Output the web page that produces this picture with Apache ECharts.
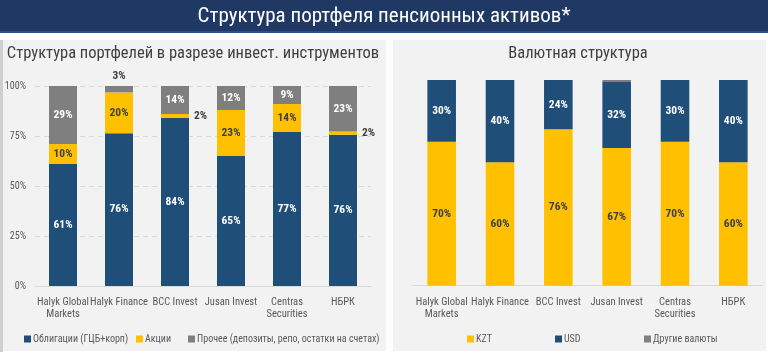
<!DOCTYPE html>
<html><head><meta charset="utf-8">
<script src="https://cdn.jsdelivr.net/npm/echarts@6/dist/echarts.min.js"></script>
<style>html,body{margin:0;padding:0;background:#fff}#c{width:768px;height:356px}</style>
</head><body><div id="c"></div>
<script>
const categories = ['Halyk Global\nMarkets', 'Halyk Finance', 'BCC Invest', 'Jusan Invest', 'Centras\nSecurities', 'НБРК'];
const yTicks = ['0%', '25%', '50%', '75%', '100%'];
// left chart: portfolio structure by instrument (%)
const bonds  = [61, 76.4, 84, 65, 77, 75.6];
const stocks = [10, 20.4, 2, 23, 14, 1.6];
const other  = [29, 3.2, 14, 12, 9, 22.8];
// right chart: currency structure (%)
const kzt = [70, 60, 76, 67, 70, 60];
const usd = [30, 40, 24, 32, 30, 40];
const otherCur = [0, 0, 0, 1, 0, 0];

const FONT = "'Roboto Condensed','DejaVu Sans Condensed',sans-serif";
const BLUE = '#1f4e79', YEL = '#ffc000', GREY = '#7f7f7f', TXT = '#595959', DARK = '#404040';

const fmt = p => Math.round(p.value) + '%';
const lbl = (color, extra) => Object.assign({show: true, position: 'inside', color: color, fontFamily: FONT, fontWeight: 'bold', fontSize: 11.5, formatter: fmt}, extra || {});

function leftData(arr, key) {
  return arr.map((v, i) => {
    const d = {value: v};
    if (key === 'stocks' && (i === 2 || i === 5)) d.label = {position: 'right', distance: 5, color: DARK};
    if (key === 'other' && i === 1) d.label = {position: 'top', distance: 4, color: DARK};
    return d;
  });
}

const chart = echarts.init(document.getElementById('c'), null, {renderer: 'canvas'});
const axisLabelX = {color: TXT, fontFamily: FONT, fontSize: 10.5, lineHeight: 12.5, margin: 10, interval: 0};
chart.setOption({
  animation: false,
  backgroundColor: '#ffffff',
  graphic: [
    {type: 'rect', shape: {x: 0, y: 0, width: 768, height: 32}, style: {fill: '#1f3864'}, z: -10},
    {type: 'rect', shape: {x: 0, y: 31, width: 768, height: 2}, style: {fill: '#2e4f8a'}, z: -10},
    {type: 'rect', shape: {x: 0, y: 40, width: 3, height: 312}, style: {fill: '#d0d0d0'}, z: -10},
    {type: 'rect', shape: {x: 3, y: 40, width: 383, height: 311}, style: {fill: '#f2f2f2'}, z: -10},
    {type: 'rect', shape: {x: 393, y: 40, width: 373, height: 311}, style: {fill: '#f2f2f2'}, z: -10},
    {type: 'text', x: 384, y: 6, style: {text: 'Структура портфеля пенсионных активов*', fill: '#ffffff', font: "21px " + FONT, textAlign: 'center'}},
    {type: 'text', x: 193, y: 45, style: {text: 'Структура портфелей в разрезе инвест. инструментов', fill: DARK, font: "16.5px " + FONT, textAlign: 'center'}},
    {type: 'text', x: 578, y: 45, style: {text: 'Валютная структура', fill: DARK, font: "16.5px " + FONT, textAlign: 'center'}}
  ],
  legend: [
    {data: ['Облигации (ГЦБ+корп)'], left: 24, top: 334},
    {data: ['Акции'], left: 136, top: 334},
    {data: ['Прочее (депозиты, репо, остатки на счетах)'], left: 188, top: 334},
    {data: ['KZT'], left: 467, top: 334},
    {data: ['USD'], left: 555, top: 334},
    {data: ['Другие валюты'], left: 644, top: 334}
  ].map(l => Object.assign({icon: 'rect', itemWidth: 7, itemHeight: 7, itemGap: 0, textStyle: {color: TXT, fontFamily: FONT, fontSize: 10, padding: [0, 0, 0, -3]}, padding: 0}, l)),
  grid: [
    {left: 35, top: 86, width: 336, height: 200},
    {left: 412.5, top: 80, width: 350, height: 205.7}
  ],
  xAxis: [
    {gridIndex: 0, type: 'category', data: categories, axisTick: {show: false}, axisLine: {lineStyle: {color: '#d9d9d9'}}, axisLabel: axisLabelX},
    {gridIndex: 1, type: 'category', data: categories, axisTick: {show: false}, axisLine: {lineStyle: {color: '#d9d9d9'}}, axisLabel: axisLabelX}
  ],
  yAxis: [
    {gridIndex: 0, type: 'value', min: 0, max: 100, interval: 25,
      axisLabel: {color: TXT, fontFamily: FONT, fontSize: 10, margin: 9, formatter: (v, i) => yTicks[i]},
      splitLine: {show: true, lineStyle: {color: '#d9d9d9', type: [5, 4]}}},
    {gridIndex: 1, type: 'value', min: 0, max: 100, show: false, splitLine: {show: false}}
  ],
  series: [
    {name: 'Облигации (ГЦБ+корп)', type: 'bar', stack: 'a', xAxisIndex: 0, yAxisIndex: 0, barWidth: '50%', itemStyle: {color: BLUE}, label: lbl('#ffffff'), data: leftData(bonds, 'bonds')},
    {name: 'Акции', type: 'bar', stack: 'a', xAxisIndex: 0, yAxisIndex: 0, barWidth: '50%', itemStyle: {color: YEL}, label: lbl(DARK), data: leftData(stocks, 'stocks')},
    {name: 'Прочее (депозиты, репо, остатки на счетах)', type: 'bar', stack: 'a', xAxisIndex: 0, yAxisIndex: 0, barWidth: '50%', itemStyle: {color: GREY}, label: lbl('#ffffff'), data: leftData(other, 'other')},
    {name: 'KZT', type: 'bar', stack: 'b', xAxisIndex: 1, yAxisIndex: 1, barWidth: '49%', itemStyle: {color: YEL}, label: lbl(DARK), data: kzt},
    {name: 'USD', type: 'bar', stack: 'b', xAxisIndex: 1, yAxisIndex: 1, barWidth: '49%', itemStyle: {color: BLUE}, label: lbl('#ffffff'), data: usd},
    {name: 'Другие валюты', type: 'bar', stack: 'b', xAxisIndex: 1, yAxisIndex: 1, barWidth: '49%', itemStyle: {color: GREY}, label: {show: false}, data: otherCur}
  ]
});
</script></body></html>
